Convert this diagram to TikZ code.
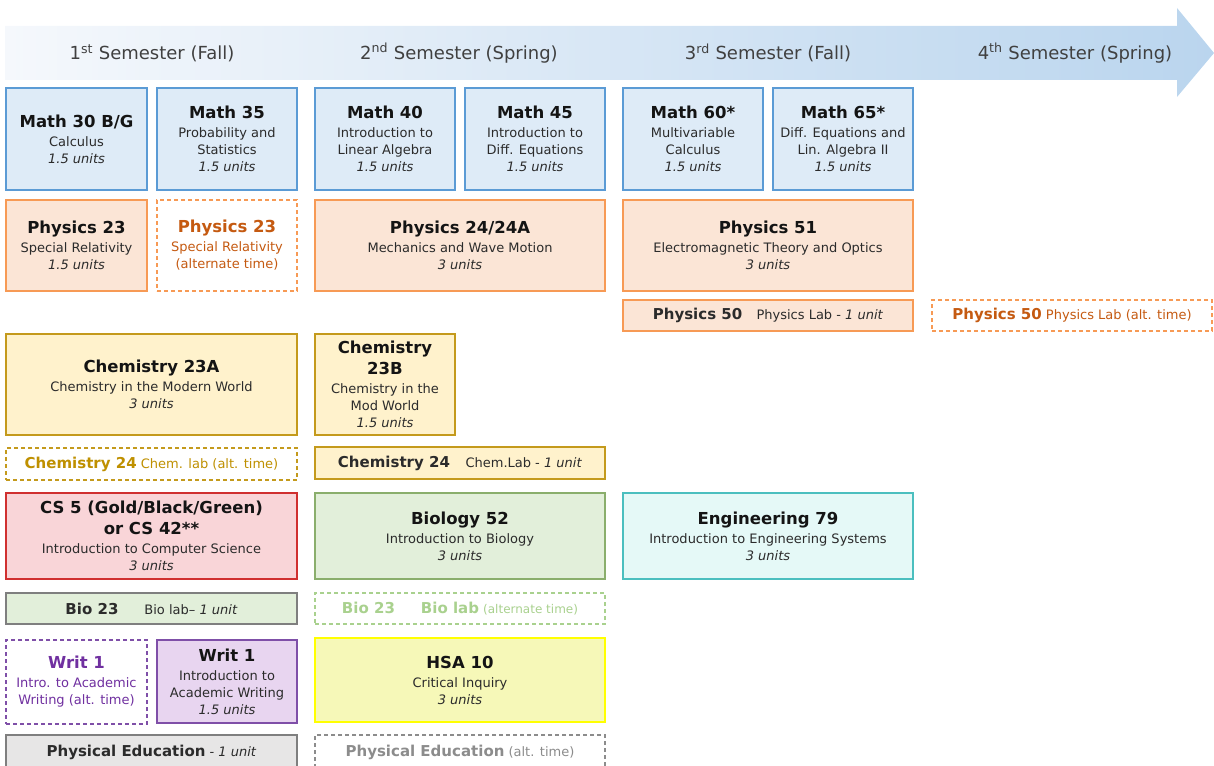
\documentclass[tikz,border=0pt]{standalone}
\usepackage{fontspec}
\setmainfont{DejaVu Sans}
\definecolor{mathfill}{HTML}{DEEBF7}
\definecolor{mathline}{HTML}{5B9BD5}
\definecolor{physfill}{HTML}{FBE5D6}
\definecolor{physline}{HTML}{F79A55}
\definecolor{physalt}{HTML}{C55A11}
\definecolor{chemfill}{HTML}{FFF2CC}
\definecolor{chemline}{HTML}{C49A1C}
\definecolor{chemalt}{HTML}{BF9000}
\definecolor{csfill}{HTML}{F9D5D8}
\definecolor{csline}{HTML}{D03030}
\definecolor{biofill}{HTML}{E2EFDA}
\definecolor{bioline}{HTML}{8AAE6C}
\definecolor{bioalt}{HTML}{A9D18E}
\definecolor{engfill}{HTML}{E5F9F7}
\definecolor{engline}{HTML}{4BBFBF}
\definecolor{writfill}{HTML}{E8D5F0}
\definecolor{writline}{HTML}{7F4FA8}
\definecolor{writalt}{HTML}{7030A0}
\definecolor{hsafill}{HTML}{F6F8B8}
\definecolor{hsaline}{HTML}{FFFF00}
\definecolor{pefill}{HTML}{E7E6E6}
\definecolor{peline}{HTML}{7F7F7F}
\definecolor{pealt}{HTML}{8C8C8C}
\definecolor{hdrL}{HTML}{F5F8FC}
\definecolor{hdrR}{HTML}{BAD5EE}
\definecolor{hdrtext}{HTML}{404040}
\definecolor{bodytext}{HTML}{2B2B2B}
\newcommand\ttl[1]{{\fontsize{16.5}{19}\selectfont\bfseries\color{black!92}#1}}
\newcommand\lttl[1]{{\fontsize{15}{18}\selectfont\bfseries #1}}
\newcommand\unt[1]{\textit{#1}}
\newcommand\cbox[7]{\node[#2, minimum width={(#5-#3)*1pt}, minimum height={(#6-#4)*1pt}] (#1) at ({(#3+#5)/2},{(#4+#6)/2}) {#7};}
\tikzset{
  cbox/.style={draw, line width=1.3pt, align=center, inner sep=1pt, text=bodytext,
    font=\fontsize{13}{17}\selectfont},
  altbox/.style={cbox, dash pattern=on 4pt off 3pt, fill=white},
  mathbox/.style={cbox, fill=mathfill, draw=mathline},
  physbox/.style={cbox, fill=physfill, draw=physline},
  physaltbox/.style={altbox, draw=physline, text=physalt},
  chembox/.style={cbox, fill=chemfill, draw=chemline},
  chemaltbox/.style={altbox, draw=chemline, text=chemalt},
  csbox/.style={cbox, fill=csfill, draw=csline},
  biobox/.style={cbox, fill=biofill, draw=bioline},
  biolabbox/.style={cbox, fill=biofill, draw=peline},
  bioaltbox/.style={altbox, draw=bioalt, text=bioalt},
  engbox/.style={cbox, fill=engfill, draw=engline},
  writbox/.style={cbox, fill=writfill, draw=writline},
  writaltbox/.style={altbox, draw=writline, text=writalt},
  hsabox/.style={cbox, fill=hsafill, draw=hsaline},
  pebox/.style={cbox, fill=pefill, draw=peline},
  pealtbox/.style={altbox, draw=pealt, text=pealt},
  hdr/.style={text=hdrtext, font=\fontsize{18}{22}\selectfont, inner sep=0pt}
}
\begin{document}
\begin{tikzpicture}[x=1pt,y=-1pt]
\useasboundingbox (0,0) rectangle (1214,765);
% header arrow
\shade[left color=hdrL, right color=hdrR] (5,26) -- (1177,26) -- (1177,8) -- (1214,53) -- (1177,97) -- (1177,80) -- (5,80) -- cycle;
\node[hdr] (h1) at (152,53) {1\textsuperscript{st} Semester (Fall)};
\node[hdr] (h2) at (459,53) {2\textsuperscript{nd} Semester (Spring)};
\node[hdr] (h3) at (768,53) {3\textsuperscript{rd} Semester (Fall)};
\node[hdr] (h4) at (1075,53) {4\textsuperscript{th} Semester (Spring)};
% math row
\cbox{m30}{mathbox}{6}{88}{147}{190}{\ttl{Math 30 B/G}\\[2pt] Calculus\\ \unt{1.5 units}}
\cbox{m35}{mathbox}{157}{88}{297}{190}{\ttl{Math 35}\\[2pt] Probability and\\ Statistics\\ \unt{1.5 units}}
\cbox{m40}{mathbox}{315}{88}{455}{190}{\ttl{Math 40}\\[2pt] Introduction to\\ Linear Algebra\\ \unt{1.5 units}}
\cbox{m45}{mathbox}{465}{88}{605}{190}{\ttl{Math 45}\\[2pt] Introduction to\\ Diff. Equations\\ \unt{1.5 units}}
\cbox{m60}{mathbox}{623}{88}{763}{190}{\ttl{Math 60*}\\[2pt] Multivariable\\ Calculus\\ \unt{1.5 units}}
\cbox{m65}{mathbox}{773}{88}{913}{190}{\ttl{Math 65*}\\[2pt] Diff. Equations and\\ Lin. Algebra II\\ \unt{1.5 units}}
% physics row
\cbox{p23}{physbox}{6}{200}{147}{291}{\ttl{Physics 23}\\[2pt] Special Relativity\\ \unt{1.5 units}}
\cbox{p23a}{physaltbox}{157}{200}{297}{291}{{\fontsize{16.5}{19}\selectfont\bfseries Physics 23}\\[2pt] Special Relativity\\ (alternate time)}
\cbox{p24}{physbox}{315}{200}{605}{291}{\ttl{Physics 24/24A}\\[2pt] Mechanics and Wave Motion\\ \unt{3 units}}
\cbox{p51}{physbox}{623}{200}{913}{291}{\ttl{Physics 51}\\[2pt] Electromagnetic Theory and Optics\\ \unt{3 units}}
\cbox{p50}{physbox}{623}{300}{913}{331}{\lttl{Physics 50}\hspace{1.1em}Physics Lab - \unt{1 unit}}
\cbox{p50a}{physaltbox}{932}{300}{1212}{331}{\lttl{Physics 50} Physics Lab (alt. time)}
% chemistry
\cbox{c23a}{chembox}{6}{334}{297}{435}{\ttl{Chemistry 23A}\\[2pt] Chemistry in the Modern World\\ \unt{3 units}}
\cbox{c23b}{chembox}{315}{334}{455}{435}{\ttl{Chemistry}\\[4pt] \ttl{23B}\\[2pt] Chemistry in the\\ Mod World\\ \unt{1.5 units}}
\cbox{c24a}{chemaltbox}{6}{448}{297}{480}{\lttl{Chemistry 24} Chem. lab (alt. time)}
\cbox{c24}{chembox}{315}{447}{605}{479}{\lttl{Chemistry 24}\hspace{1.2em}Chem.Lab - \unt{1 unit}}
% cs / bio / eng
\cbox{cs}{csbox}{6}{493}{297}{579}{\ttl{CS 5 (Gold/Black/Green)}\\[4pt] \ttl{or CS 42**}\\[2pt] Introduction to Computer Science\\ \unt{3 units}}
\cbox{b52}{biobox}{315}{493}{605}{579}{\ttl{Biology 52}\\[2pt] Introduction to Biology\\ \unt{3 units}}
\cbox{e79}{engbox}{623}{493}{913}{579}{\ttl{Engineering 79}\\[2pt] Introduction to Engineering Systems\\ \unt{3 units}}
\cbox{b23}{biolabbox}{6}{593}{297}{624}{\lttl{Bio 23}\hspace{2em}Bio lab– \unt{1 unit}}
\cbox{b23a}{bioaltbox}{315}{593}{605}{624}{\lttl{Bio 23}\hspace{2em}\lttl{Bio lab} {\fontsize{12}{15}\selectfont(alternate time)}}
% writing / hsa
\cbox{w1a}{writaltbox}{6}{640}{147}{724}{{\fontsize{16.5}{19}\selectfont\bfseries Writ 1}\\[2pt] Intro. to Academic\\ Writing (alt. time)}
\cbox{w1}{writbox}{157}{640}{297}{723}{\ttl{Writ 1}\\[2pt] Introduction to\\ Academic Writing\\ \unt{1.5 units}}
\cbox{hsa}{hsabox}{315}{638}{605}{722}{\ttl{HSA 10}\\[2pt] Critical Inquiry\\ \unt{3 units}}
% PE
\cbox{pe}{pebox}{6}{735}{297}{770}{\lttl{Physical Education} - \unt{1 unit}}
\cbox{pea}{pealtbox}{315}{735}{605}{770}{\lttl{Physical Education} (alt. time)}
\end{tikzpicture}
\end{document}
